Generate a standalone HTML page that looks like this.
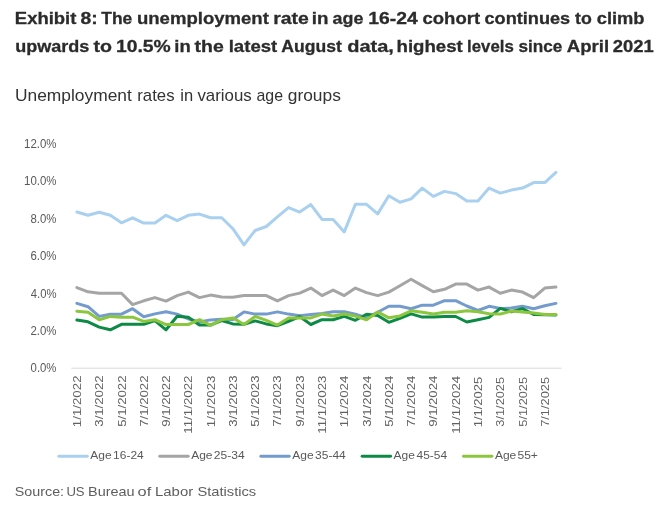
<!DOCTYPE html>
<html><head><meta charset="utf-8"><title>Exhibit 8</title>
<style>
html,body{margin:0;padding:0;background:#fff;}
body{width:670px;height:516px;position:relative;overflow:hidden;font-family:"Liberation Sans",sans-serif;}
</style></head><body>
<svg width="670" height="516" viewBox="0 0 670 516" style="position:absolute;left:0;top:0;will-change:transform">
<line x1="71.3" y1="368.2" x2="561.6" y2="368.2" stroke="#d9d9d9" stroke-width="1"/>
<polyline points="76.90,212.05 88.04,215.30 99.18,212.30 110.32,215.30 121.46,222.80 132.60,217.80 143.74,223.10 154.88,223.10 166.02,215.30 177.16,220.60 188.30,215.30 199.44,214.10 210.58,217.70 221.72,217.70 232.86,228.70 244.00,244.80 255.14,230.50 266.28,226.50 277.42,216.90 288.56,207.60 299.70,212.10 310.84,204.60 321.98,219.40 333.12,219.40 344.26,231.90 355.40,204.30 366.54,204.30 377.68,213.85 388.82,195.80 399.96,202.20 411.10,198.90 422.24,188.10 433.38,196.40 444.52,191.40 455.66,193.60 466.80,200.90 477.94,200.90 489.08,188.10 500.22,193.10 511.36,190.10 522.50,188.10 533.64,182.60 544.78,182.60 555.92,172.40" fill="none" stroke="#a9d1ef" stroke-width="3.0" stroke-linejoin="round" stroke-linecap="round"/>
<polyline points="76.90,287.55 88.04,291.80 99.18,293.30 110.32,293.30 121.46,293.30 132.60,304.60 143.74,300.80 154.88,297.60 166.02,301.10 177.16,295.60 188.30,292.10 199.44,297.60 210.58,295.10 221.72,297.10 232.86,297.20 244.00,295.60 255.14,295.60 266.28,295.60 277.42,300.90 288.56,295.60 299.70,293.10 310.84,288.07 321.98,295.60 333.12,290.10 344.26,295.60 355.40,288.07 366.54,292.60 377.68,295.60 388.82,292.10 399.96,285.80 411.10,279.30 422.24,285.60 433.38,291.80 444.52,289.30 455.66,284.06 466.80,284.06 477.94,290.10 489.08,287.07 500.22,293.30 511.36,290.10 522.50,292.08 533.64,297.70 544.78,288.07 555.92,287.07" fill="none" stroke="#a5a5a5" stroke-width="3.0" stroke-linejoin="round" stroke-linecap="round"/>
<polyline points="76.90,303.40 88.04,306.70 99.18,316.40 110.32,314.20 121.46,314.20 132.60,308.70 143.74,316.70 154.88,313.90 166.02,311.80 177.16,314.10 188.30,318.90 199.44,322.00 210.58,319.90 221.72,319.30 232.86,319.50 244.00,311.90 255.14,314.10 266.28,314.10 277.42,311.90 288.56,314.10 299.70,315.80 310.84,314.60 321.98,313.40 333.12,311.70 344.26,311.70 355.40,314.10 366.54,317.80 377.68,312.30 388.82,306.30 399.96,306.30 411.10,308.70 422.24,305.15 433.38,305.15 444.52,300.70 455.66,300.70 466.80,306.00 477.94,310.50 489.08,306.30 500.22,308.40 511.36,308.10 522.50,306.25 533.64,308.75 544.78,305.70 555.92,303.40" fill="none" stroke="#739bcd" stroke-width="3.0" stroke-linejoin="round" stroke-linecap="round"/>
<polyline points="76.90,320.10 88.04,321.80 99.18,327.10 110.32,329.80 121.46,324.30 132.60,324.30 143.74,324.30 154.88,320.60 166.02,329.80 177.16,316.30 188.30,317.30 199.44,325.07 210.58,325.07 221.72,320.50 232.86,323.90 244.00,324.20 255.14,320.90 266.28,323.90 277.42,325.70 288.56,321.25 299.70,316.50 310.84,324.50 321.98,319.70 333.12,319.70 344.26,316.40 355.40,320.30 366.54,314.30 377.68,315.50 388.82,322.30 399.96,318.30 411.10,313.90 422.24,317.10 433.38,317.10 444.52,316.50 455.66,316.50 466.80,322.00 477.94,319.80 489.08,317.40 500.22,308.40 511.36,311.70 522.50,308.60 533.64,314.50 544.78,314.70 555.92,314.90" fill="none" stroke="#0d8a45" stroke-width="3.0" stroke-linejoin="round" stroke-linecap="round"/>
<polyline points="76.90,311.20 88.04,312.20 99.18,319.75 110.32,316.40 121.46,317.20 132.60,317.20 143.74,321.40 154.88,319.75 166.02,324.60 177.16,324.50 188.30,324.50 199.44,319.70 210.58,325.30 221.72,319.70 232.86,317.90 244.00,324.50 255.14,316.40 266.28,320.30 277.42,325.07 288.56,317.90 299.70,317.90 310.84,317.90 321.98,314.10 333.12,316.10 344.26,314.10 355.40,316.10 366.54,319.70 377.68,311.90 388.82,317.80 399.96,315.90 411.10,310.80 422.24,312.30 433.38,314.10 444.52,312.30 455.66,312.30 466.80,310.80 477.94,311.70 489.08,313.75 500.22,314.10 511.36,311.00 522.50,311.90 533.64,313.00 544.78,314.50 555.92,314.55" fill="none" stroke="#8cc63f" stroke-width="3.0" stroke-linejoin="round" stroke-linecap="round"/>
<line x1="58.85" y1="456.3" x2="87.30" y2="456.3" stroke="#a9d1ef" stroke-width="2.9" stroke-linecap="round"/>
<line x1="159.75" y1="456.3" x2="188.20" y2="456.3" stroke="#a5a5a5" stroke-width="2.9" stroke-linecap="round"/>
<line x1="260.85" y1="456.3" x2="289.30" y2="456.3" stroke="#739bcd" stroke-width="2.9" stroke-linecap="round"/>
<line x1="362.15" y1="456.3" x2="390.60" y2="456.3" stroke="#0d8a45" stroke-width="2.9" stroke-linecap="round"/>
<line x1="463.45" y1="456.3" x2="491.90" y2="456.3" stroke="#8cc63f" stroke-width="2.9" stroke-linecap="round"/>
<text x="14.85" y="23.70" font-family="Liberation Sans, sans-serif" font-weight="bold" font-size="17.4" fill="#2b2b2b" stroke="#2b2b2b" stroke-width="0.3" textLength="61.54" lengthAdjust="spacingAndGlyphs">Exhibit</text>
<text x="80.40" y="23.70" font-family="Liberation Sans, sans-serif" font-weight="bold" font-size="17.4" fill="#2b2b2b" stroke="#2b2b2b" stroke-width="0.3" textLength="17.21" lengthAdjust="spacingAndGlyphs">8:</text>
<text x="101.30" y="23.70" font-family="Liberation Sans, sans-serif" font-weight="bold" font-size="17.4" fill="#2b2b2b" stroke="#2b2b2b" stroke-width="0.3" textLength="30.93" lengthAdjust="spacingAndGlyphs">The</text>
<text x="136.93" y="23.70" font-family="Liberation Sans, sans-serif" font-weight="bold" font-size="17.4" fill="#2b2b2b" stroke="#2b2b2b" stroke-width="0.3" textLength="131.96" lengthAdjust="spacingAndGlyphs">unemployment</text>
<text x="273.19" y="23.70" font-family="Liberation Sans, sans-serif" font-weight="bold" font-size="17.4" fill="#2b2b2b" stroke="#2b2b2b" stroke-width="0.3" textLength="35.60" lengthAdjust="spacingAndGlyphs">rate</text>
<text x="311.73" y="23.70" font-family="Liberation Sans, sans-serif" font-weight="bold" font-size="17.4" fill="#2b2b2b" stroke="#2b2b2b" stroke-width="0.3" textLength="16.68" lengthAdjust="spacingAndGlyphs">in</text>
<text x="332.52" y="23.70" font-family="Liberation Sans, sans-serif" font-weight="bold" font-size="17.4" fill="#2b2b2b" stroke="#2b2b2b" stroke-width="0.3" textLength="30.82" lengthAdjust="spacingAndGlyphs">age</text>
<text x="368.19" y="23.70" font-family="Liberation Sans, sans-serif" font-weight="bold" font-size="17.4" fill="#2b2b2b" stroke="#2b2b2b" stroke-width="0.3" textLength="49.49" lengthAdjust="spacingAndGlyphs">16-24</text>
<text x="422.52" y="23.70" font-family="Liberation Sans, sans-serif" font-weight="bold" font-size="17.4" fill="#2b2b2b" stroke="#2b2b2b" stroke-width="0.3" textLength="57.57" lengthAdjust="spacingAndGlyphs">cohort</text>
<text x="484.53" y="23.70" font-family="Liberation Sans, sans-serif" font-weight="bold" font-size="17.4" fill="#2b2b2b" stroke="#2b2b2b" stroke-width="0.3" textLength="85.70" lengthAdjust="spacingAndGlyphs">continues</text>
<text x="575.10" y="23.70" font-family="Liberation Sans, sans-serif" font-weight="bold" font-size="17.4" fill="#2b2b2b" stroke="#2b2b2b" stroke-width="0.3" textLength="16.78" lengthAdjust="spacingAndGlyphs">to</text>
<text x="596.73" y="23.70" font-family="Liberation Sans, sans-serif" font-weight="bold" font-size="17.4" fill="#2b2b2b" stroke="#2b2b2b" stroke-width="0.3" textLength="47.77" lengthAdjust="spacingAndGlyphs">climb</text>
<text x="15.15" y="51.80" font-family="Liberation Sans, sans-serif" font-weight="bold" font-size="17.4" fill="#2b2b2b" stroke="#2b2b2b" stroke-width="0.3" textLength="74.18" lengthAdjust="spacingAndGlyphs">upwards</text>
<text x="93.50" y="51.80" font-family="Liberation Sans, sans-serif" font-weight="bold" font-size="17.4" fill="#2b2b2b" stroke="#2b2b2b" stroke-width="0.3" textLength="18.54" lengthAdjust="spacingAndGlyphs">to</text>
<text x="115.99" y="51.80" font-family="Liberation Sans, sans-serif" font-weight="bold" font-size="17.4" fill="#2b2b2b" stroke="#2b2b2b" stroke-width="0.3" textLength="54.78" lengthAdjust="spacingAndGlyphs">10.5%</text>
<text x="174.35" y="51.80" font-family="Liberation Sans, sans-serif" font-weight="bold" font-size="17.4" fill="#2b2b2b" stroke="#2b2b2b" stroke-width="0.3" textLength="16.39" lengthAdjust="spacingAndGlyphs">in</text>
<text x="194.60" y="51.80" font-family="Liberation Sans, sans-serif" font-weight="bold" font-size="17.4" fill="#2b2b2b" stroke="#2b2b2b" stroke-width="0.3" textLength="29.18" lengthAdjust="spacingAndGlyphs">the</text>
<text x="228.69" y="51.80" font-family="Liberation Sans, sans-serif" font-weight="bold" font-size="17.4" fill="#2b2b2b" stroke="#2b2b2b" stroke-width="0.3" textLength="48.60" lengthAdjust="spacingAndGlyphs">latest</text>
<text x="281.33" y="51.80" font-family="Liberation Sans, sans-serif" font-weight="bold" font-size="17.4" fill="#2b2b2b" stroke="#2b2b2b" stroke-width="0.3" textLength="60.56" lengthAdjust="spacingAndGlyphs">August</text>
<text x="347.17" y="51.80" font-family="Liberation Sans, sans-serif" font-weight="bold" font-size="17.4" fill="#2b2b2b" stroke="#2b2b2b" stroke-width="0.3" textLength="46.71" lengthAdjust="spacingAndGlyphs">data,</text>
<text x="396.54" y="51.80" font-family="Liberation Sans, sans-serif" font-weight="bold" font-size="17.4" fill="#2b2b2b" stroke="#2b2b2b" stroke-width="0.3" textLength="66.26" lengthAdjust="spacingAndGlyphs">highest</text>
<text x="467.05" y="51.80" font-family="Liberation Sans, sans-serif" font-weight="bold" font-size="17.4" fill="#2b2b2b" stroke="#2b2b2b" stroke-width="0.3" textLength="46.73" lengthAdjust="spacingAndGlyphs">levels</text>
<text x="518.46" y="51.80" font-family="Liberation Sans, sans-serif" font-weight="bold" font-size="17.4" fill="#2b2b2b" stroke="#2b2b2b" stroke-width="0.3" textLength="43.86" lengthAdjust="spacingAndGlyphs">since</text>
<text x="566.81" y="51.80" font-family="Liberation Sans, sans-serif" font-weight="bold" font-size="17.4" fill="#2b2b2b" stroke="#2b2b2b" stroke-width="0.3" textLength="42.39" lengthAdjust="spacingAndGlyphs">April</text>
<text x="612.82" y="51.80" font-family="Liberation Sans, sans-serif" font-weight="bold" font-size="17.4" fill="#2b2b2b" stroke="#2b2b2b" stroke-width="0.3" textLength="41.04" lengthAdjust="spacingAndGlyphs">2021</text>
<text x="14.91" y="101.20" font-family="Liberation Sans, sans-serif" font-size="17.0" fill="#333" textLength="116.93" lengthAdjust="spacingAndGlyphs">Unemployment</text>
<text x="137.25" y="101.20" font-family="Liberation Sans, sans-serif" font-size="17.0" fill="#333" textLength="37.27" lengthAdjust="spacingAndGlyphs">rates</text>
<text x="180.37" y="101.20" font-family="Liberation Sans, sans-serif" font-size="17.0" fill="#333" textLength="12.86" lengthAdjust="spacingAndGlyphs">in</text>
<text x="197.40" y="101.20" font-family="Liberation Sans, sans-serif" font-size="17.0" fill="#333" textLength="54.33" lengthAdjust="spacingAndGlyphs">various</text>
<text x="256.50" y="101.20" font-family="Liberation Sans, sans-serif" font-size="17.0" fill="#333" textLength="26.54" lengthAdjust="spacingAndGlyphs">age</text>
<text x="287.76" y="101.20" font-family="Liberation Sans, sans-serif" font-size="17.0" fill="#333" textLength="53.09" lengthAdjust="spacingAndGlyphs">groups</text>
<text x="14.75" y="495.90" font-family="Liberation Sans, sans-serif" font-size="13.6" fill="#5e5e5e" textLength="49.34" lengthAdjust="spacingAndGlyphs">Source:</text>
<text x="66.38" y="495.90" font-family="Liberation Sans, sans-serif" font-size="13.6" fill="#5e5e5e" textLength="18.27" lengthAdjust="spacingAndGlyphs">US</text>
<text x="88.07" y="495.90" font-family="Liberation Sans, sans-serif" font-size="13.6" fill="#5e5e5e" textLength="46.54" lengthAdjust="spacingAndGlyphs">Bureau</text>
<text x="137.59" y="495.90" font-family="Liberation Sans, sans-serif" font-size="13.6" fill="#5e5e5e" textLength="13.66" lengthAdjust="spacingAndGlyphs">of</text>
<text x="155.04" y="495.90" font-family="Liberation Sans, sans-serif" font-size="13.6" fill="#5e5e5e" textLength="38.14" lengthAdjust="spacingAndGlyphs">Labor</text>
<text x="197.44" y="495.90" font-family="Liberation Sans, sans-serif" font-size="13.6" fill="#5e5e5e" textLength="58.72" lengthAdjust="spacingAndGlyphs">Statistics</text>
<text x="24.04" y="147.85" font-family="Liberation Sans, sans-serif" font-size="12.0" fill="#595959" textLength="32.46" lengthAdjust="spacingAndGlyphs">12.0%</text>
<text x="24.04" y="185.28" font-family="Liberation Sans, sans-serif" font-size="12.0" fill="#595959" textLength="32.46" lengthAdjust="spacingAndGlyphs">10.0%</text>
<text x="30.53" y="222.71" font-family="Liberation Sans, sans-serif" font-size="12.0" fill="#595959" textLength="25.97" lengthAdjust="spacingAndGlyphs">8.0%</text>
<text x="30.43" y="260.14" font-family="Liberation Sans, sans-serif" font-size="12.0" fill="#595959" textLength="26.07" lengthAdjust="spacingAndGlyphs">6.0%</text>
<text x="30.76" y="297.57" font-family="Liberation Sans, sans-serif" font-size="12.0" fill="#595959" textLength="25.73" lengthAdjust="spacingAndGlyphs">4.0%</text>
<text x="30.43" y="335.00" font-family="Liberation Sans, sans-serif" font-size="12.0" fill="#595959" textLength="26.07" lengthAdjust="spacingAndGlyphs">2.0%</text>
<text x="30.57" y="372.43" font-family="Liberation Sans, sans-serif" font-size="12.0" fill="#595959" textLength="25.92" lengthAdjust="spacingAndGlyphs">0.0%</text>
<text transform="translate(80.95,427.19) rotate(-90)" font-family="Liberation Sans, sans-serif" font-size="11.4" fill="#626262" textLength="51.72" lengthAdjust="spacingAndGlyphs">1/1/2022</text>
<text transform="translate(103.23,426.66) rotate(-90)" font-family="Liberation Sans, sans-serif" font-size="11.4" fill="#626262" textLength="51.18" lengthAdjust="spacingAndGlyphs">3/1/2022</text>
<text transform="translate(125.51,426.72) rotate(-90)" font-family="Liberation Sans, sans-serif" font-size="11.4" fill="#626262" textLength="51.24" lengthAdjust="spacingAndGlyphs">5/1/2022</text>
<text transform="translate(147.79,426.84) rotate(-90)" font-family="Liberation Sans, sans-serif" font-size="11.4" fill="#626262" textLength="51.36" lengthAdjust="spacingAndGlyphs">7/1/2022</text>
<text transform="translate(170.07,426.78) rotate(-90)" font-family="Liberation Sans, sans-serif" font-size="11.4" fill="#626262" textLength="51.30" lengthAdjust="spacingAndGlyphs">9/1/2022</text>
<text transform="translate(192.35,433.79) rotate(-90)" font-family="Liberation Sans, sans-serif" font-size="11.4" fill="#626262" textLength="58.33" lengthAdjust="spacingAndGlyphs">11/1/2022</text>
<text transform="translate(214.63,427.19) rotate(-90)" font-family="Liberation Sans, sans-serif" font-size="11.4" fill="#626262" textLength="51.66" lengthAdjust="spacingAndGlyphs">1/1/2023</text>
<text transform="translate(236.91,426.66) rotate(-90)" font-family="Liberation Sans, sans-serif" font-size="11.4" fill="#626262" textLength="51.13" lengthAdjust="spacingAndGlyphs">3/1/2023</text>
<text transform="translate(259.19,426.72) rotate(-90)" font-family="Liberation Sans, sans-serif" font-size="11.4" fill="#626262" textLength="51.18" lengthAdjust="spacingAndGlyphs">5/1/2023</text>
<text transform="translate(281.47,426.84) rotate(-90)" font-family="Liberation Sans, sans-serif" font-size="11.4" fill="#626262" textLength="51.30" lengthAdjust="spacingAndGlyphs">7/1/2023</text>
<text transform="translate(303.75,426.78) rotate(-90)" font-family="Liberation Sans, sans-serif" font-size="11.4" fill="#626262" textLength="51.24" lengthAdjust="spacingAndGlyphs">9/1/2023</text>
<text transform="translate(326.03,433.79) rotate(-90)" font-family="Liberation Sans, sans-serif" font-size="11.4" fill="#626262" textLength="58.27" lengthAdjust="spacingAndGlyphs">11/1/2023</text>
<text transform="translate(348.31,427.18) rotate(-90)" font-family="Liberation Sans, sans-serif" font-size="11.4" fill="#626262" textLength="51.42" lengthAdjust="spacingAndGlyphs">1/1/2024</text>
<text transform="translate(370.59,426.66) rotate(-90)" font-family="Liberation Sans, sans-serif" font-size="11.4" fill="#626262" textLength="50.89" lengthAdjust="spacingAndGlyphs">3/1/2024</text>
<text transform="translate(392.87,426.72) rotate(-90)" font-family="Liberation Sans, sans-serif" font-size="11.4" fill="#626262" textLength="50.95" lengthAdjust="spacingAndGlyphs">5/1/2024</text>
<text transform="translate(415.15,426.83) rotate(-90)" font-family="Liberation Sans, sans-serif" font-size="11.4" fill="#626262" textLength="51.07" lengthAdjust="spacingAndGlyphs">7/1/2024</text>
<text transform="translate(437.43,426.77) rotate(-90)" font-family="Liberation Sans, sans-serif" font-size="11.4" fill="#626262" textLength="51.01" lengthAdjust="spacingAndGlyphs">9/1/2024</text>
<text transform="translate(459.71,433.79) rotate(-90)" font-family="Liberation Sans, sans-serif" font-size="11.4" fill="#626262" textLength="58.03" lengthAdjust="spacingAndGlyphs">11/1/2024</text>
<text transform="translate(481.99,427.16) rotate(-90)" font-family="Liberation Sans, sans-serif" font-size="11.4" fill="#626262" textLength="50.26" lengthAdjust="spacingAndGlyphs">1/1/2025</text>
<text transform="translate(504.27,426.65) rotate(-90)" font-family="Liberation Sans, sans-serif" font-size="11.4" fill="#626262" textLength="49.74" lengthAdjust="spacingAndGlyphs">3/1/2025</text>
<text transform="translate(526.55,426.70) rotate(-90)" font-family="Liberation Sans, sans-serif" font-size="11.4" fill="#626262" textLength="49.80" lengthAdjust="spacingAndGlyphs">5/1/2025</text>
<text transform="translate(548.83,426.82) rotate(-90)" font-family="Liberation Sans, sans-serif" font-size="11.4" fill="#626262" textLength="49.91" lengthAdjust="spacingAndGlyphs">7/1/2025</text>
<text x="90.30" y="459.00" font-family="Liberation Sans, sans-serif" font-size="11.8" fill="#595959" textLength="21.37" lengthAdjust="spacingAndGlyphs">Age</text>
<text x="113.14" y="459.00" font-family="Liberation Sans, sans-serif" font-size="11.8" fill="#595959" textLength="30.68" lengthAdjust="spacingAndGlyphs">16-24</text>
<text x="191.20" y="459.00" font-family="Liberation Sans, sans-serif" font-size="11.8" fill="#595959" textLength="21.37" lengthAdjust="spacingAndGlyphs">Age</text>
<text x="213.84" y="459.00" font-family="Liberation Sans, sans-serif" font-size="11.8" fill="#595959" textLength="30.88" lengthAdjust="spacingAndGlyphs">25-34</text>
<text x="292.30" y="459.00" font-family="Liberation Sans, sans-serif" font-size="11.8" fill="#595959" textLength="21.37" lengthAdjust="spacingAndGlyphs">Age</text>
<text x="315.09" y="459.00" font-family="Liberation Sans, sans-serif" font-size="11.8" fill="#595959" textLength="30.73" lengthAdjust="spacingAndGlyphs">35-44</text>
<text x="393.60" y="459.00" font-family="Liberation Sans, sans-serif" font-size="11.8" fill="#595959" textLength="21.37" lengthAdjust="spacingAndGlyphs">Age</text>
<text x="416.55" y="459.00" font-family="Liberation Sans, sans-serif" font-size="11.8" fill="#595959" textLength="30.57" lengthAdjust="spacingAndGlyphs">45-54</text>
<text x="494.90" y="459.00" font-family="Liberation Sans, sans-serif" font-size="11.8" fill="#595959" textLength="21.37" lengthAdjust="spacingAndGlyphs">Age</text>
<text x="517.44" y="459.00" font-family="Liberation Sans, sans-serif" font-size="11.8" fill="#595959" textLength="20.41" lengthAdjust="spacingAndGlyphs">55+</text>
</svg>
</body></html>
